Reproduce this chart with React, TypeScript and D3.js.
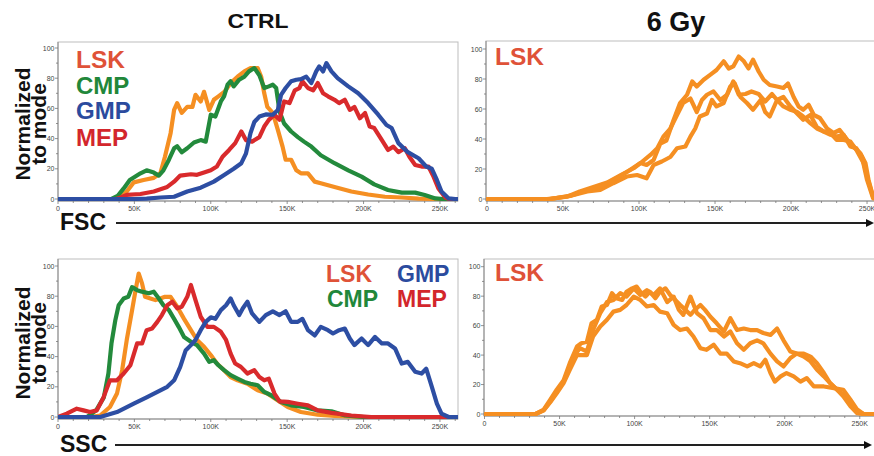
import React from 'react';
import * as d3 from 'd3';

// x values in K (FSC-A / SSC-A channel), y values in % of mode
const xTickValues = [0, 50, 100, 150, 200, 250];
const xTickLabels = ['0', '50K', '100K', '150K', '200K', '250K'];
const yTickValues = [0, 20, 40, 60, 80, 100];

const fscLsk = [[0,0],[37,0],[41,2],[45,5],[49.6,11],[56,12.6],[62.7,14],[67,17],[70,28],[73.7,43.6],[76,59],[78,63.5],[81,57],[84.6,61],[88,61],[90,69],[93.4,64.6],[95.6,71],[99,59],[102,65.7],[105,68],[109,71],[113,76.8],[117.5,81],[122,84.5],[126,86.7],[130.7,86.7],[133,81],[135,70],[137,61],[140.6,57],[143.9,45.8],[147,34.7],[149,26],[152.6,26],[156,19],[159,17],[163.6,17],[168,11.5],[172,10.4],[181,8],[192,5],[203,3],[214,1.5],[225,1],[236,0.3],[247,0],[262,0]];
const fscCmp = [[0,0],[35,0],[39,2],[43,7],[47,12.6],[54,17],[58,19],[62.7,17.5],[66,15.5],[69,19],[72.6,26],[76,33.6],[78,35],[81,31],[84.6,33.6],[89,37.4],[93.4,39],[96.7,38],[100,55.8],[103,54.6],[106.6,64.6],[108.7,68],[111,75.7],[113,78],[115,74.6],[118.6,79],[122,81],[125,84.5],[128.5,86.7],[131.8,82],[135,73.5],[138,74.6],[140.6,75.7],[142.8,73.5],[145,58],[148,50],[152.6,44.7],[157,41],[161,38],[165.8,34.7],[172,29],[181,23.7],[190,19],[198.7,14.8],[207,9.7],[216,6],[225,4.2],[233.8,4.2],[240,2.7],[247,0.4],[252,0],[262,0]];
const fscGmp = [[0,0],[50,0],[58,0.3],[67,1],[76,1.5],[84.6,5],[93.4,7.5],[102,11.5],[109,16],[115,20],[120,23.7],[123,30],[126,43.6],[128.5,51],[131.8,54.6],[136,56],[140.6,55.8],[143.9,59],[146,69],[149,73.5],[152.6,78],[156,79],[159,79.4],[162.5,81],[165.8,76.8],[169,84.5],[171,87.8],[173.5,84.5],[175.7,90],[179,84.5],[183,80],[190,74.6],[196.5,70],[203,63.5],[209.6,55.8],[215,49],[218.4,47],[222.8,37],[229,31],[236,27],[241,21.5],[244.7,20],[248,12.6],[251,5],[255.7,0.4],[260,0],[262,0]];
const fscMep = [[0,0],[38,0],[41,1],[45,2.7],[54,3.3],[62.7,5],[71.5,8],[76,11.5],[80,15.5],[87,16.4],[91,16],[95.6,17.5],[100,19],[104,21.5],[107.7,28],[112,32.5],[116,37],[120,44.7],[123,39],[127,38],[131.8,41],[135,48],[138,52.4],[141.7,55.8],[145,52.4],[148,64.6],[151.5,63.5],[155,72],[158,73.5],[160,78],[163.6,73.5],[167,72],[170,76.8],[173.5,70],[176.7,68],[181,65.7],[184,63.5],[187.7,65.7],[191,59],[194,61],[197.6,53.5],[201,56.9],[204,48],[207,47],[212,39],[216,32.5],[219.5,34.7],[222.8,31],[227,33.6],[230,28],[233.8,22.5],[238,21.5],[242.5,21.5],[245.8,14.8],[249,7],[253.5,1],[256,0],[262,0]];

const gyFscA = [[0,0],[39.5,0],[52.6,1.5],[61,5],[70,8],[79,11],[88,16],[96.5,20.5],[101,24],[105,22.7],[109.6,26],[114,37],[118,39],[122.8,52.8],[127,64],[131.6,69.5],[135,78.4],[138,75],[142.5,79.5],[147,82.9],[151,86],[155.7,91.8],[159,87],[162,88.4],[165.6,95],[169,91.8],[172,87],[175,92.9],[178.7,85],[182,79.5],[186,76],[190.8,75],[195,74],[198,77],[201.7,68],[205,61.7],[208,59.5],[211.6,62.8],[215,56],[219,54],[223.7,47],[228,44],[232,46],[237,39.4],[241,35],[245.6,30.5],[249,23.8],[251,12.7],[254,1.5],[257,0],[262,0]];
const gyFscB = [[0,0],[42,0],[57,2.7],[66,5],[74.5,6],[83,10.5],[92,15],[98.7,16],[105,13.8],[109.6,22.7],[115,25],[120.6,28],[125,33.8],[130.5,35],[133.8,41.6],[137,47],[140,55],[144.7,57],[148,66],[151,61.7],[155.7,64],[160,75],[163,77],[166.7,68],[171,64],[175,59.5],[180,66],[183,58],[186,55],[190.8,66],[195,68],[199.6,61.7],[204,57],[208,52.8],[212.7,56],[217,48],[221.5,45],[226,42.8],[230,41.6],[234.6,42.8],[239,35],[243,33.8],[246.7,28],[250,12.7],[254,0.4],[262,0]];
const gyFscC = [[0,0],[41,0],[54.8,2],[66,6],[74.5,8],[83,12.7],[92,18],[101,24],[107.5,29.4],[112,33.8],[116,41.6],[120.6,47],[125,56],[129,64],[133.8,67],[138,58],[141.4,66],[144.7,69.5],[149,71.7],[153.5,66],[158,69.5],[162,78.4],[165.6,69.5],[170,70],[174,71.7],[178.7,70],[183,65],[187.5,70],[190.8,66],[195,61.7],[199.6,59.5],[204,58],[208,55],[212.7,50.6],[217,47],[221.5,45],[226,44],[230,39.4],[234.6,39.4],[239,38.3],[243,32.7],[247.8,23.8],[252,8],[254,1.5],[257,0],[262,0]];

const sscLsk = [[0,0],[21,0],[27.6,1],[34,6.6],[38.6,15.5],[42,31],[45,51],[48.5,70.8],[50.6,83],[52.8,95],[55,88.5],[57,79.6],[60.5,78.5],[63.8,77.4],[67,78.5],[70,79.6],[73.7,79.6],[78,73],[82.5,65],[87,57.5],[91,51],[95.6,46.5],[100,41],[104,35.4],[108.7,31],[113,26.5],[117.5,24.3],[124,22],[130.7,17.7],[137,15.5],[143.9,11],[150.4,6.6],[159,3.3],[170,1.5],[181,0.7],[200,0],[262,0]];
const sscCmp = [[0,0],[19,0],[25,4.4],[30,13],[33,28.8],[35,48.7],[37.5,64],[39.7,74],[43,78.5],[46,79.6],[48.5,86],[51.8,84],[55,83],[59.4,82],[62.7,83],[66,78.5],[69,74],[72.6,70.8],[76,65],[79,59.7],[82.5,53],[87,49.8],[91,47.6],[95.6,42],[99,36.5],[102,37.6],[105,34.3],[108.7,31],[113,27.7],[117.5,25.4],[122,23.2],[126,22],[130.7,21],[135,16.6],[139.5,14.4],[146,10],[152.6,7.7],[161,6.6],[170,4.4],[179,3.8],[188,1],[200,0],[262,0]];
const sscGmp = [[0,0],[27.6,0],[38.6,3.3],[49.6,8.8],[58,13],[67,17.7],[71.5,20],[76,24.3],[80,33.2],[83.5,44],[87,47.6],[90,51],[93.4,57.5],[96.7,63],[100,66],[103,65],[106.6,70.8],[110,74],[113,78.5],[115,74],[118.6,67.5],[121,72],[124,76.3],[127,68.6],[131.8,63],[136,67.5],[140.6,70],[145,67.5],[149,70],[152.6,63],[157,63],[160,65],[163.6,57.5],[168,54],[172,59.7],[176.7,57.5],[180,55.3],[184,57.5],[187.7,58.6],[191,52],[194,47.6],[198.7,52],[203,47.6],[207.5,53],[212,48.7],[216,48.7],[220.6,45.4],[225,35.4],[229,36.5],[233.8,30],[238,28.8],[241,32],[244.7,20],[248,8.8],[251,2.2],[255.7,0],[262,0]];
const sscMep = [[0,0],[5.7,2.2],[12.3,5.5],[16.7,4.4],[21,3.3],[25.4,4.4],[29.8,13],[34,24.3],[38.6,24.3],[43,28.8],[47.4,34.3],[51.8,48.7],[55,48.7],[58,57.5],[61.6,58.6],[65,63],[68,67.5],[71.5,74],[74.8,76.3],[78,72],[81,73],[84.6,79.6],[87,87.4],[90,77.4],[93.4,66.4],[97.8,59.7],[102,59.7],[106.6,56.4],[110,51],[113,42],[116,35.4],[119.7,33.2],[124,28.8],[128.5,31],[131.8,26.5],[135,24.3],[138,25.4],[141.7,15.5],[145,10.4],[150.4,10],[157,8.8],[163.6,7.7],[170,4.4],[179,2.7],[192,1],[205,0],[262,0]];

const gySscA = [[0,0],[34,0],[39.4,3],[43.8,9.7],[48.1,16.5],[52.7,23],[56.8,34.5],[61.6,45.8],[64.5,48],[68.2,49],[71.3,61.6],[74.9,64],[78.1,73],[81.6,74],[84.9,82],[87.8,78.6],[91.7,77.4],[94.6,83],[98.3,85.3],[101.4,86.5],[103.8,83],[107.2,79.7],[110.1,83],[113.8,78.6],[116.9,83],[120.5,85.3],[123.7,80.8],[127.1,77.4],[130.4,74],[133.8,70.7],[137.2,67.3],[140.1,70.7],[143.8,74],[146.9,70.7],[150.5,66],[154.7,61.6],[159.5,56],[163.8,65],[168.2,57],[172.7,58],[177,57],[181.6,57],[185.7,55],[190.5,53.7],[194.9,58],[199.2,50],[203.8,42.4],[208,41],[212.7,41],[217.2,39],[221.5,34.5],[226.1,27.8],[230.2,21],[234.9,16.5],[239,13],[243.8,6.3],[248.3,1.8],[252.5,0],[262,0]];
const gySscB = [[0,0],[34,0],[39.4,2.5],[43.8,8.5],[48.1,15],[52.7,22],[56.8,32],[60,40],[63.6,44.7],[68.2,42.4],[72.3,57],[77.1,68.4],[81.6,76],[85.9,77.4],[90.4,82],[94.6,79.7],[99.4,85.3],[103.8,80.8],[108.2,84],[112.7,80.8],[116.9,85.3],[121.7,76],[126,79.7],[129.5,70.7],[132.4,67.3],[137.2,79.7],[141.6,68.4],[145.9,65],[150.5,57],[154.7,57],[159.5,52.6],[163.8,56],[168.2,48],[172.7,43.6],[177,48],[181.6,50],[185.7,48],[190.5,41],[194.9,35.7],[199.2,32.3],[203.8,38],[208,41],[212.7,39],[217.2,35.7],[221.5,30],[226.1,25.5],[230.2,21],[234.9,16.5],[239,12],[243.8,5.2],[248.3,0.5],[252,0],[262,0]];
const gySscC = [[0,0],[34,0],[39.4,2.5],[43.8,8],[48.1,14],[52.7,21],[56.8,30],[61.6,40],[68.2,40],[72.3,52.6],[77.1,59.4],[81.6,64],[85.9,69.5],[90.4,70.7],[94.6,74],[99.4,79.7],[103.8,77.4],[108.2,73],[112.7,74],[116.9,69.5],[121.7,68.4],[126,60.5],[130.4,57],[134.9,58],[139.2,52.6],[143.8,44.7],[147.9,43.6],[152.7,47],[157.1,41],[161.4,41],[166,35.7],[170.2,34.5],[175,32.3],[179.4,34.5],[183.7,32.3],[187.1,36.8],[190.5,27.8],[193.4,22],[197.3,25.5],[201.2,27.8],[206,25.5],[210.5,22],[214.7,24.4],[219.4,18.7],[226.1,18.7],[232.7,17.6],[239,16.5],[243.8,9.7],[248.3,3],[252.5,0],[262,0]];

const lineColors = { LSK: '#f58f22', CMP: '#238a3c', GMP: '#2d4ea3', MEP: '#d92a2c' };
const textColors = { LSK: '#df5238', CMP: '#21873a', GMP: '#2b4b9e', MEP: '#d3262c' };

const FONT = '"Liberation Sans", Arial, Helvetica, sans-serif';

function Panel({ box, series, legend }) {
  const x = d3.scaleLinear().domain([0, 262.144]).range([box.x0, box.x1]);
  const y = d3.scaleLinear().domain([0, 100]).range([box.y0, box.y100]);
  const line = d3.line().x((d) => x(d[0])).y((d) => y(d[1]));
  const minorX = d3.range(0, 262, 10);
  const minorY = d3.range(0, 101, 10);
  const id = 'clip' + box.key;

  return (
    <g>
      <defs>
        <clipPath id={id}>
          <rect x={box.left} y={box.top} width={box.right - box.left} height={box.bottom - box.top} />
        </clipPath>
      </defs>
      <rect x={box.left} y={box.top} width={box.right - box.left} height={box.bottom - box.top}
        fill="#fff" stroke="#bdbdbd" strokeWidth={1} />
      <line x1={box.left} x2={box.left} y1={box.top} y2={box.bottom} stroke="#8a8a8a" />
      <line x1={box.left} x2={box.right} y1={box.bottom} y2={box.bottom} stroke="#8a8a8a" />
      {minorX.map((v) => (
        <line key={'mx' + v} x1={x(v)} x2={x(v)} y1={box.bottom} y2={box.bottom + (v % 50 === 0 ? 3 : 2)} stroke="#777" strokeWidth={0.8} />
      ))}
      {xTickValues.map((v, i) => (
        <text key={'xl' + v} x={x(v)} y={box.bottom + 10} fontSize={7} fill="#444" textAnchor="middle" fontFamily={FONT}>{xTickLabels[i]}</text>
      ))}
      {minorY.map((v) => (
        <line key={'my' + v} x1={box.left} x2={box.left - (v % 20 === 0 ? 3 : 2)} y1={y(v)} y2={y(v)} stroke="#777" strokeWidth={0.8} />
      ))}
      {yTickValues.map((v) => (
        <text key={'yl' + v} x={box.left - 3.5} y={y(v) + 2.5} fontSize={7} fill="#444" textAnchor="end" fontFamily={FONT}>{v}</text>
      ))}
      <g clipPath={`url(#${id})`}>
        {series.map((s, i) => (
          <path key={i} d={line(s.data)} fill="none" stroke={lineColors[s.name]} strokeWidth={4.2}
            strokeLinejoin="round" strokeLinecap="round" />
        ))}
      </g>
      {legend.map((l) => (
        <text key={l.name + l.x} x={l.x} y={l.y} fill={textColors[l.name]} fontSize={l.size}
          fontWeight="bold" fontFamily={FONT}>{l.name}</text>
      ))}
    </g>
  );
}

function YLabel({ cx, cy }) {
  return (
    <g fontFamily={FONT} fontWeight="bold" fontSize={21} fill="#111" textAnchor="middle">
      <text transform={`translate(${cx},${cy}) rotate(-90)`}>Normalized</text>
      <text transform={`translate(${cx + 16},${cy}) rotate(-90)`}>to mode</text>
    </g>
  );
}

function AxisArrow({ label, y, x1, x2 }) {
  return (
    <g>
      <text x={60} y={y + 7} fontFamily={FONT} fontWeight="bold" fontSize={23} fill="#111">{label}</text>
      <line x1={x1} x2={x2 - 6} y1={y} y2={y} stroke="#222" strokeWidth={2} />
      <path d={`M${x2 - 8},${y - 4}L${x2},${y}L${x2 - 8},${y + 4}Z`} fill="#111" />
    </g>
  );
}

export default function App() {
  const topLeft = { key: 'tl', x0: 58, x1: 458.5, y0: 199, y100: 48, left: 58, top: 42, right: 458, bottom: 201 };
  const topRight = { key: 'tr', x0: 487, x1: 885.5, y0: 199, y100: 49, left: 486, top: 41, right: 890, bottom: 201 };
  const botLeft = { key: 'bl', x0: 58, x1: 458.5, y0: 417, y100: 266, left: 58, top: 259, right: 458, bottom: 419 };
  const botRight = { key: 'br', x0: 484.5, x1: 878, y0: 414, y100: 266.7, left: 484, top: 259, right: 890, bottom: 416 };

  return (
    <svg width={874} height={456} style={{ position: 'absolute', left: 0, top: 0, background: '#fff' }}>
      <rect width={874} height={456} fill="#fff" />
      <text x={258} y={28} textAnchor="middle" fontFamily={FONT} fontWeight="bold" fontSize={21}
        textLength={61} lengthAdjust="spacingAndGlyphs" fill="#111">CTRL</text>
      <text x={676} y={31} textAnchor="middle" fontFamily={FONT} fontWeight="bold" fontSize={27}
        fill="#111">6 Gy</text>

      <Panel box={topLeft}
        series={[
          { name: 'LSK', data: fscLsk },
          { name: 'CMP', data: fscCmp },
          { name: 'MEP', data: fscMep },
          { name: 'GMP', data: fscGmp },
        ]}
        legend={[
          { name: 'LSK', x: 76, y: 68, size: 24.5 },
          { name: 'CMP', x: 76, y: 94, size: 24 },
          { name: 'GMP', x: 76, y: 119, size: 24 },
          { name: 'MEP', x: 76, y: 146, size: 24 },
        ]} />
      <Panel box={topRight}
        series={[
          { name: 'LSK', data: gyFscA },
          { name: 'LSK', data: gyFscB },
          { name: 'LSK', data: gyFscC },
        ]}
        legend={[{ name: 'LSK', x: 495, y: 65, size: 24.5 }]} />
      <Panel box={botLeft}
        series={[
          { name: 'LSK', data: sscLsk },
          { name: 'CMP', data: sscCmp },
          { name: 'MEP', data: sscMep },
          { name: 'GMP', data: sscGmp },
        ]}
        legend={[
          { name: 'LSK', x: 326, y: 282, size: 23 },
          { name: 'GMP', x: 397, y: 282, size: 23 },
          { name: 'CMP', x: 327, y: 307, size: 23 },
          { name: 'MEP', x: 397, y: 307, size: 23 },
        ]} />
      <Panel box={botRight}
        series={[
          { name: 'LSK', data: gySscA },
          { name: 'LSK', data: gySscB },
          { name: 'LSK', data: gySscC },
        ]}
        legend={[{ name: 'LSK', x: 495, y: 281, size: 24.5 }]} />

      <YLabel cx={29.5} cy={124} />
      <YLabel cx={29.5} cy={343} />
      <AxisArrow label="FSC" y={223} x1={116} x2={874} />
      <AxisArrow label="SSC" y={445} x1={115} x2={872} />
    </svg>
  );
}
